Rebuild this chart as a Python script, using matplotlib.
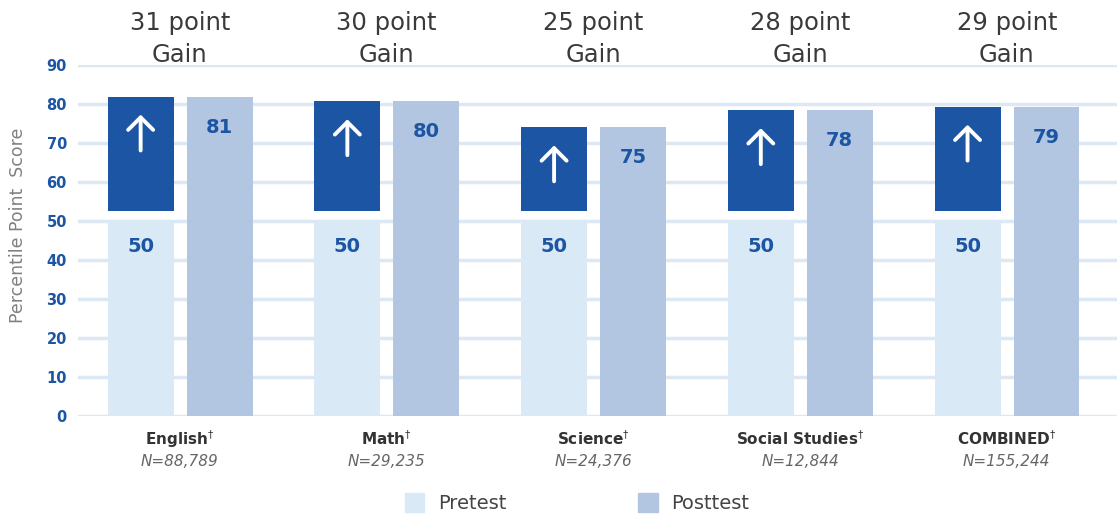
import numpy as np
import matplotlib.pyplot as plt
from matplotlib.patches import Patch

subjects = ["English", "Math", "Science", "Social Studies", "COMBINED"]
n_counts = ["N=88,789", "N=29,235", "N=24,376", "N=12,844", "N=155,244"]
pretest = [50, 50, 50, 50, 50]
posttest = [81, 80, 75, 78, 79]
# bar tops as drawn in the picture
post_height = [81.8, 80.6, 73.9, 78.3, 79.2]
gains = [31, 30, 25, 28, 29]
yticks = [0, 10, 20, 30, 40, 50, 60, 70, 80, 90]

c_pre = "#d9e9f6"
c_post = "#b3c6e1"
c_dark = "#1c55a3"
c_grid = "#dce9f5"

plt.rcParams['font.family'] = ['DejaVu Sans']

fig = plt.figure(figsize=(11.17, 5.17), dpi=100)
ax = fig.add_axes([78/1117, (517-415.7)/517, 1039/1117, 351/517])

x = np.arange(len(subjects))
w = 0.319
off_pre = -0.19
off_post = 0.192

for y in yticks:
    ax.axhline(y, color=c_grid, lw=2.5, zorder=0)

ax.bar(x + off_pre, pretest, width=w, color=c_pre, zorder=2)
ax.bar(x + off_post, post_height, width=w, color=c_post, zorder=2)
box_bottom = 52.5
ax.bar(x + off_pre, np.array(post_height) - box_bottom, bottom=box_bottom,
       width=w, color=c_dark, zorder=3)

for i in range(len(subjects)):
    top = post_height[i]
    ax.annotate("", xy=(x[i] + off_pre, top - 4.6), xytext=(x[i] + off_pre, top - 13.8),
                arrowprops=dict(arrowstyle="->,head_width=0.45,head_length=0.45",
                                mutation_scale=20, color="white", lw=2.8,
                                capstyle="round", joinstyle="round",
                                shrinkA=0, shrinkB=0),
                zorder=4)
    ax.text(x[i] + off_post, top - 7.8, str(posttest[i]), ha="center", va="center",
            fontsize=14, fontweight="bold", color=c_dark, zorder=5)
    ax.text(x[i] + off_pre, 43.5, str(pretest[i]), ha="center", va="center",
            fontsize=14, fontweight="bold", color=c_dark, zorder=5)
    ax.text(x[i], 100.6, f"{gains[i]} point", ha="center", va="center",
            fontsize=17.5, color="#3a3a3a", clip_on=False)
    ax.text(x[i], 92.4, "Gain", ha="center", va="center",
            fontsize=17.5, color="#3a3a3a", clip_on=False)
    ax.text(x[i], -6.0, subjects[i] + "$^{\\dagger}$", ha="center", va="center",
            fontsize=11, fontweight="bold", color="#333333", clip_on=False)
    ax.text(x[i], -11.8, n_counts[i], ha="center", va="center",
            fontsize=11, fontstyle="italic", color="#666666", clip_on=False)

ax.set_xlim(-0.493, 4.533)
ax.set_ylim(0, 90)
ax.set_yticks(yticks)
ax.set_yticklabels([str(v) for v in yticks], fontsize=10.5, fontweight="bold", color=c_dark)
ax.tick_params(axis="y", length=0, pad=8)
ax.set_xticks([])
for s in ax.spines.values():
    s.set_visible(False)

fig.text(18/1117, 1 - 225/517, "Percentile Point  Score", rotation=90, ha="center", va="center",
         fontsize=12.5, color="#808080")

handles = [Patch(color=c_pre, label="Pretest"), Patch(color=c_post, label="Posttest")]
fig.legend(handles=handles, loc="center", bbox_to_anchor=(577/1117, 1 - 503/517), ncol=2,
           frameon=False, fontsize=14, handlelength=1.0, handleheight=1.1,
           columnspacing=6.8, handletextpad=0.7, labelcolor="#444444")

fig.savefig("out.png", dpi=100)
